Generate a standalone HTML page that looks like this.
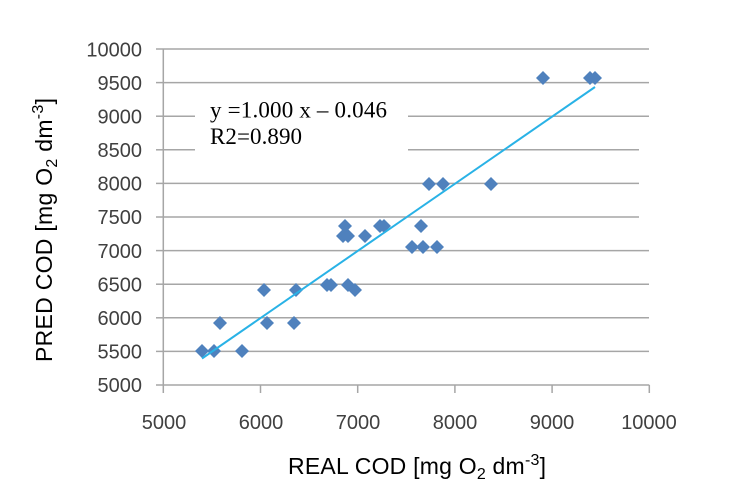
<!DOCTYPE html>
<html>
<head>
<meta charset="utf-8">
<style>
  html, body { margin: 0; padding: 0; background: #ffffff; }
  body { width: 732px; height: 502px; overflow: hidden; }
  svg { display: block; }
  .tick { font-family: "Liberation Sans", "DejaVu Sans", sans-serif; font-size: 20px; fill: #404040; }
  .lab { font-family: "Liberation Sans", sans-serif; font-size: 23px; fill: #000; }
  .eq { font-family: "Liberation Serif", serif; font-size: 23px; fill: #000; }
</style>
</head>
<body>
<svg width="732" height="502" viewBox="0 0 732 502" xmlns="http://www.w3.org/2000/svg">
  <rect width="732" height="502" fill="#fff"/>
  <!-- gridlines -->
  <g stroke="#a6a6a6" stroke-width="1.5">
    <line x1="163" y1="49" x2="649" y2="49"/>
    <line x1="163" y1="82.6" x2="649" y2="82.6"/>
    <line x1="163" y1="116.2" x2="649" y2="116.2"/>
    <line x1="163" y1="149.8" x2="639" y2="149.8"/>
    <line x1="163" y1="183.4" x2="639" y2="183.4"/>
    <line x1="163" y1="217" x2="639" y2="217"/>
    <line x1="163" y1="250.6" x2="649" y2="250.6"/>
    <line x1="163" y1="284.2" x2="649" y2="284.2"/>
    <line x1="163" y1="317.8" x2="649" y2="317.8"/>
    <line x1="163" y1="351.4" x2="649" y2="351.4"/>
  </g>
  <!-- axes -->
  <g stroke="#a6a6a6" stroke-width="1.5" fill="none">
    <line x1="163.3" y1="49" x2="163.3" y2="385"/>
    <line x1="163" y1="385" x2="649.3" y2="385"/>
    <line x1="156" y1="49" x2="163" y2="49"/>
    <line x1="156" y1="82.6" x2="163" y2="82.6"/>
    <line x1="156" y1="116.2" x2="163" y2="116.2"/>
    <line x1="156" y1="149.8" x2="163" y2="149.8"/>
    <line x1="156" y1="183.4" x2="163" y2="183.4"/>
    <line x1="156" y1="217" x2="163" y2="217"/>
    <line x1="156" y1="250.6" x2="163" y2="250.6"/>
    <line x1="156" y1="284.2" x2="163" y2="284.2"/>
    <line x1="156" y1="317.8" x2="163" y2="317.8"/>
    <line x1="156" y1="351.4" x2="163" y2="351.4"/>
    <line x1="156" y1="385" x2="163" y2="385"/>
    <line x1="163.3" y1="385" x2="163.3" y2="393"/>
    <line x1="260.5" y1="385" x2="260.5" y2="393"/>
    <line x1="357.7" y1="385" x2="357.7" y2="393"/>
    <line x1="454.9" y1="385" x2="454.9" y2="393"/>
    <line x1="552.1" y1="385" x2="552.1" y2="393"/>
    <line x1="649.3" y1="385" x2="649.3" y2="393"/>
  </g>

  <!-- equation box -->
  <rect x="195" y="92" width="213" height="70" fill="#fff"/>
  <text class="eq" x="210" y="117.5" textLength="177" lengthAdjust="spacing">y =1.000 x – 0.046</text>
  <text class="eq" x="210" y="144" textLength="92" lengthAdjust="spacing">R2=0.890</text>

  <!-- y tick labels -->
  <g class="tick" text-anchor="end">
    <text x="142" y="56.5">10000</text>
    <text x="142" y="90">9500</text>
    <text x="142" y="123.5">9000</text>
    <text x="142" y="157">8500</text>
    <text x="142" y="190.5">8000</text>
    <text x="142" y="224">7500</text>
    <text x="142" y="258">7000</text>
    <text x="142" y="291.5">6500</text>
    <text x="142" y="325">6000</text>
    <text x="142" y="358.5">5500</text>
    <text x="142" y="392">5000</text>
  </g>
  <!-- x tick labels -->
  <g class="tick" text-anchor="middle">
    <text x="164" y="429">5000</text>
    <text x="261" y="429">6000</text>
    <text x="358" y="429">7000</text>
    <text x="455" y="429">8000</text>
    <text x="552" y="429">9000</text>
    <text x="649" y="429">10000</text>
  </g>

  <!-- data points -->
  <g fill="#4f81bd">
    <polygon points="202,344 209,351 202,358 195,351"/>
    <polygon points="214,344 221,351 214,358 207,351"/>
    <polygon points="242,344 249,351 242,358 235,351"/>
    <polygon points="220,316 227,323 220,330 213,323"/>
    <polygon points="267,316 274,323 267,330 260,323"/>
    <polygon points="294,316 301,323 294,330 287,323"/>
    <polygon points="264,283 271,290 264,297 257,290"/>
    <polygon points="296,283 303,290 296,297 289,290"/>
    <polygon points="327,278 334,285 327,292 320,285"/>
    <polygon points="331,278 338,285 331,292 324,285"/>
    <polygon points="348,278 355,285 348,292 341,285"/>
    <polygon points="355,283 362,290 355,297 348,290"/>
    <polygon points="345,219 352,226 345,233 338,226"/>
    <polygon points="380,219 387,226 380,233 373,226"/>
    <polygon points="384,219 391,226 384,233 377,226"/>
    <polygon points="421,219 428,226 421,233 414,226"/>
    <polygon points="343,229 350,236 343,243 336,236"/>
    <polygon points="348,229 355,236 348,243 341,236"/>
    <polygon points="365,229 372,236 365,243 358,236"/>
    <polygon points="412,240 419,247 412,254 405,247"/>
    <polygon points="423,240 430,247 423,254 416,247"/>
    <polygon points="437,240 444,247 437,254 430,247"/>
    <polygon points="429,177 436,184 429,191 422,184"/>
    <polygon points="443,177 450,184 443,191 436,184"/>
    <polygon points="491,177 498,184 491,191 484,184"/>
    <polygon points="543,71 550,78 543,85 536,78"/>
    <polygon points="590,71 597,78 590,85 583,78"/>
    <polygon points="595,71 602,78 595,85 588,78"/>
  </g>

  <!-- regression line -->
  <line x1="202" y1="358.5" x2="595" y2="87" stroke="#29b2e6" stroke-width="2"/>

  <!-- axis titles -->
  <text class="lab" x="288" y="474" textLength="258" lengthAdjust="spacing">REAL COD [mg O<tspan font-size="16" dy="5">2</tspan><tspan dy="-5"> dm</tspan><tspan font-size="16" dy="-9">-3</tspan><tspan dy="9">]</tspan></text>
  <text class="lab" transform="translate(52,362) rotate(-90)" x="0" y="0" textLength="264" lengthAdjust="spacing">PRED COD [mg O<tspan font-size="16" dy="5">2</tspan><tspan dy="-5"> dm</tspan><tspan font-size="16" dy="-9">-3</tspan><tspan dy="9">]</tspan></text>
</svg>
</body>
</html>
